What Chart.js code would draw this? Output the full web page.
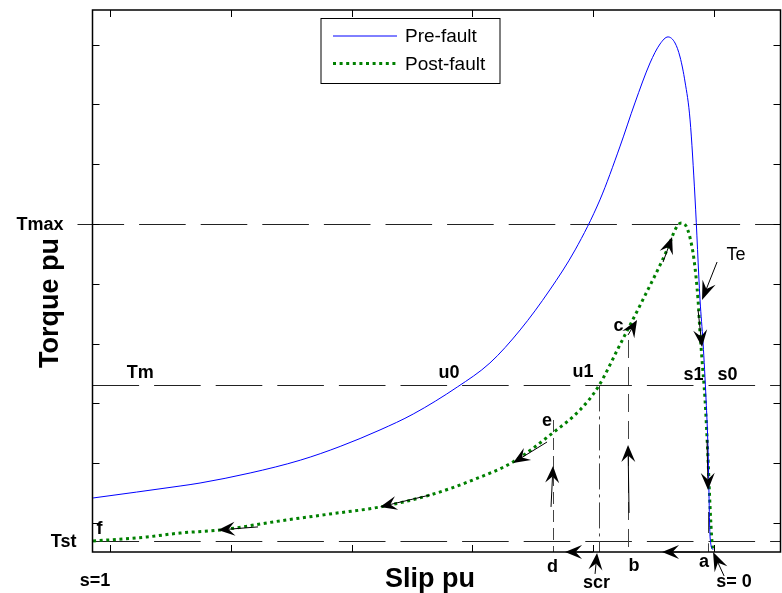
<!DOCTYPE html>
<html>
<head>
<meta charset="utf-8">
<script src="https://cdn.jsdelivr.net/npm/chart.js@4.4.1/dist/chart.umd.min.js"></script>
<style>
html,body{margin:0;padding:0;background:#fff;}
</style>
</head>
<body>
<canvas id="myChart" width="782" height="593"></canvas>
<script>
// slip (pu) and torque (pu)
var slipPre   = [1.028,0.884,0.851,0.768,0.685,0.619,0.553,0.498,0.425,0.371,0.321,0.272,0.230,0.189,0.156,0.131,0.106,0.0894,0.0762,0.0646,0.0563,0.0480,0.0397,0.0315,0.0232,0.0182,0.0132,0.0099,0.0066,0.0017];
var torquePre = [0.709,0.809,0.834,0.918,1.025,1.140,1.278,1.411,1.637,1.838,2.114,2.448,2.783,3.201,3.644,4.012,4.346,4.505,4.564,4.513,4.396,4.187,3.870,3.217,2.365,2.005,1.528,1.110,0.383,0.274];

var slipPost   = [1.028,0.939,0.884,0.818,0.719,0.636,0.553,0.470,0.399,0.333,0.267,0.222,0.192,0.156,0.118,0.0778,0.0629,0.0546,0.0464,0.0397,0.0331,0.0265,0.0232,0.0199,0.0149,0.0099,0.0066,0.0033,0.0017];
var torquePost = [0.349,0.383,0.416,0.441,0.517,0.575,0.634,0.734,0.860,1.010,1.253,1.445,1.637,1.988,2.365,2.783,2.967,3.008,2.983,2.883,2.699,2.365,2.089,1.863,1.528,1.027,0.634,0.333,0.266];

var slipTicks   = [1, 0.8, 0.6, 0.4, 0.2, 0];
var torqueTicks = [0.5, 1, 1.5, 2, 2.5, 3, 3.5, 4, 4.5];

// torque levels marked on the y axis
var refNames  = ['Tmax', 'Tm', 'Tst'];
var refValues = [3.0, 1.65, 0.35];

// vertical guide lines: slip, top torque, bottom torque
var guideNames = ['d', 'scr', 'b', 'a', 'a'];
var guideSlip  = [0.2666, 0.1904, 0.1424, 0.0099, 0.0099];
var guideTop   = [1.361, 1.65, 2.030, 0.592, 0.33];
var guideBot   = [0.2573, 0.2573, 0.2573, 0.416, 0.2573];

// arrows [tail slip, tail torque, tip slip, tip torque]
var arrows = [
  [-0.0050, 2.682, 0.0199, 2.365],   // Te
  [0.0265, 2.281, 0.0199, 1.972],
  [0.0116, 1.194, 0.0099, 0.776],
  [-0.0166, 0.057, 0.0017, 0.2575],  // s=0
  [0.0232, 0.2573, 0.0861, 0.2573],
  [0.2003, 0.2573, 0.2467, 0.2573],
  [0.1970, 0.074, 0.1937, 0.249],    // scr
  [0.1407, 0.584, 0.1424, 1.152],    // b
  [0.2699, 0.634, 0.2666, 0.977],    // d
  [0.1424, 2.072, 0.1275, 2.197],    // c
  [0.0844, 2.682, 0.0695, 2.891],
  [0.2765, 1.177, 0.3328, 1.002],    // e
  [0.4702, 0.734, 0.5530, 0.634],
  [0.7550, 0.467, 0.8212, 0.441]
];

// point labels
var labelText  = ['Tm', 'u0', 'u1', 's1', 's0', 'Te', 'c', 'e', 'f', 'd', 'scr', 'b', 'a', 's= 0', 's=1'];
var labelSlip  = [0.950, 0.4387, 0.2169, 0.0339, -0.0224, -0.0364, 0.1581, 0.2765, 1.0174, 0.2674, 0.1945, 0.1325, 0.0166, -0.0331, 1.0248];
var labelTorq  = [1.754, 1.754, 1.763, 1.737, 1.737, 2.741, 2.147, 1.353, 0.450, 0.132, -0.002, 0.140, 0.174, 0.007, 0.015];

var FONT = '"Liberation Sans", Arial, sans-serif';

function toPts(xs, ys) {
  var out = [];
  for (var i = 0; i < xs.length; i++) {
    out.push({x: xs[i], y: ys[i]});
  }
  return out;
}

function arrowHead(ctx, x1, y1, x2, y2, len, wid) {
  var dx = x2 - x1, dy = y2 - y1;
  var d = Math.sqrt(dx * dx + dy * dy);
  var ux = dx / d, uy = dy / d;
  var px = -uy, py = ux;
  var bx = x2 - ux * len, by = y2 - uy * len;
  var nx = x2 - ux * len * 0.62, ny = y2 - uy * len * 0.62;
  ctx.beginPath();
  ctx.moveTo(x1, y1);
  ctx.lineTo(nx, ny);
  ctx.stroke();
  ctx.beginPath();
  ctx.moveTo(x2, y2);
  ctx.lineTo(bx + px * wid, by + py * wid);
  ctx.lineTo(nx, ny);
  ctx.lineTo(bx - px * wid, by - py * wid);
  ctx.closePath();
  ctx.fill();
}

var overlay = {
  id: 'overlay',
  beforeDatasetsDraw: function(chart) {
    var ctx = chart.ctx, xs = chart.scales.x, ys = chart.scales.y, area = chart.chartArea;
    ctx.save();
    ctx.strokeStyle = '#222';
    ctx.lineWidth = 1;
    ctx.setLineDash([46.6, 15]);
    //horizontal levels
    for (var i = 0; i < refValues.length; i++) {
      var y = Math.round(ys.getPixelForValue(refValues[i])) + 0.5;
      var start = refNames[i] == 'Tmax' ? area.left - 15 : area.left;
      ctx.beginPath();
      ctx.moveTo(start, y);
      ctx.lineTo(area.right, y);
      ctx.stroke();
    }
    //vertical guides
    var dashes = [[12, 6], [26, 5, 3, 5], [18, 9], [], []];
    ctx.strokeStyle = '#444';
    for (var j = 0; j < guideSlip.length; j++) {
      var x = Math.round(xs.getPixelForValue(guideSlip[j])) + 0.5;
      ctx.setLineDash(dashes[j]);
      ctx.beginPath();
      ctx.moveTo(x, ys.getPixelForValue(guideTop[j]));
      ctx.lineTo(x, ys.getPixelForValue(guideBot[j]));
      ctx.stroke();
    }
    ctx.restore();
  },
  afterDatasetsDraw: function(chart) {
    var ctx = chart.ctx, xs = chart.scales.x, ys = chart.scales.y, area = chart.chartArea;
    ctx.save();

    // axes box and inward ticks
    ctx.strokeStyle = '#000';
    ctx.lineWidth = 1.5;
    ctx.setLineDash([]);
    ctx.strokeRect(area.left, area.top, area.right - area.left, area.bottom - area.top);
    ctx.lineWidth = 1;
    var tl = 7;
    slipTicks.forEach(function(s) {
      var x = Math.round(xs.getPixelForValue(s)) + 0.5;
      ctx.beginPath();
      ctx.moveTo(x, area.bottom); ctx.lineTo(x, area.bottom - tl);
      ctx.moveTo(x, area.top); ctx.lineTo(x, area.top + tl);
      ctx.stroke();
    });
    torqueTicks.forEach(function(t) {
      var y = Math.round(ys.getPixelForValue(t)) + 0.5;
      ctx.beginPath();
      ctx.moveTo(area.left, y); ctx.lineTo(area.left + tl, y);
      ctx.moveTo(area.right, y); ctx.lineTo(area.right - tl, y);
      ctx.stroke();
    });

    // arrows
    ctx.fillStyle = '#000';
    ctx.strokeStyle = '#000';
    ctx.lineWidth = 1;
    arrows.forEach(function(a, k) {
      var len = (k == 3 || k == 0) ? 19 : 17;
      arrowHead(ctx, xs.getPixelForValue(a[0]), ys.getPixelForValue(a[1]),
                xs.getPixelForValue(a[2]), ys.getPixelForValue(a[3]), len, 7);
    });

    // point labels
    ctx.textAlign = 'center';
    ctx.textBaseline = 'middle';
    for (var i = 0; i < labelText.length; i++) {
      ctx.font = (labelText[i] == 'Te' ? '' : 'bold ') + '18px ' + FONT;
      ctx.fillText(labelText[i], xs.getPixelForValue(labelSlip[i]), ys.getPixelForValue(labelTorq[i]));
    }

    // y level names
    ctx.font = 'bold 18px ' + FONT;
    ctx.textAlign = 'right';
    for (var r = 0; r < refNames.length; r++) {
      if (refNames[r] == 'Tm') continue;
      var off = refNames[r] == 'Tmax' ? 29 : 16;
      ctx.fillText(refNames[r], area.left - off, ys.getPixelForValue(refValues[r]) + 1);
    }

    // axis titles
    ctx.font = 'bold 27px ' + FONT;
    ctx.textAlign = 'center';
    ctx.fillText('Slip pu', 430, 580);
    ctx.save();
    ctx.translate(51, 303);
    ctx.rotate(-Math.PI / 2);
    ctx.fillText('Torque pu', 0, 0);
    ctx.restore();

    // legend
    ctx.fillStyle = '#fff';
    ctx.fillRect(321, 18.5, 179, 65);
    ctx.strokeStyle = '#000';
    ctx.lineWidth = 1;
    ctx.strokeRect(321, 18.5, 179, 65);
    var rows = [36, 63.5];
    chart.data.datasets.forEach(function(ds, i) {
      ctx.strokeStyle = ds.borderColor;
      ctx.lineWidth = ds.borderWidth;
      ctx.setLineDash(ds.borderDash || []);
      ctx.beginPath();
      ctx.moveTo(333, rows[i]);
      ctx.lineTo(397, rows[i]);
      ctx.stroke();
      ctx.setLineDash([]);
      ctx.fillStyle = '#000';
      ctx.font = '19px ' + FONT;
      ctx.textAlign = 'left';
      ctx.fillText(ds.label, 405, rows[i] + 1);
    });
    ctx.restore();
  }
};

var ctx = document.getElementById('myChart').getContext('2d');
var chart = new Chart(ctx, {
    type: 'line',
    data: {
        datasets: [{
            label: 'Pre-fault',
            data: toPts(slipPre, torquePre),
            borderColor: 'rgb(0,0,255)',
            borderWidth: 1,
            pointRadius: 0,
            cubicInterpolationMode: 'monotone'
        }, {
            label: 'Post-fault',
            data: toPts(slipPost, torquePost),
            borderColor: 'rgb(0,128,0)',
            borderWidth: 3,
            borderDash: [3, 3.6],
            pointRadius: 0,
            cubicInterpolationMode: 'monotone'
        }]
    },
    options: {
        responsive: false,
        animation: false,
        devicePixelRatio: 1,
        layout: {padding: {left: 92.5, right: 1.5, top: 10, bottom: 41}},
        plugins: {legend: {display: false}, tooltip: {enabled: false}},
        scales: {
            x: {type: 'linear', reverse: true, min: -0.110, max: 1.029, display: false},
            y: {type: 'linear', min: 0.2573, max: 4.789, display: false}
        }
    },
    plugins: [overlay]
});
</script>
</body>
</html>
